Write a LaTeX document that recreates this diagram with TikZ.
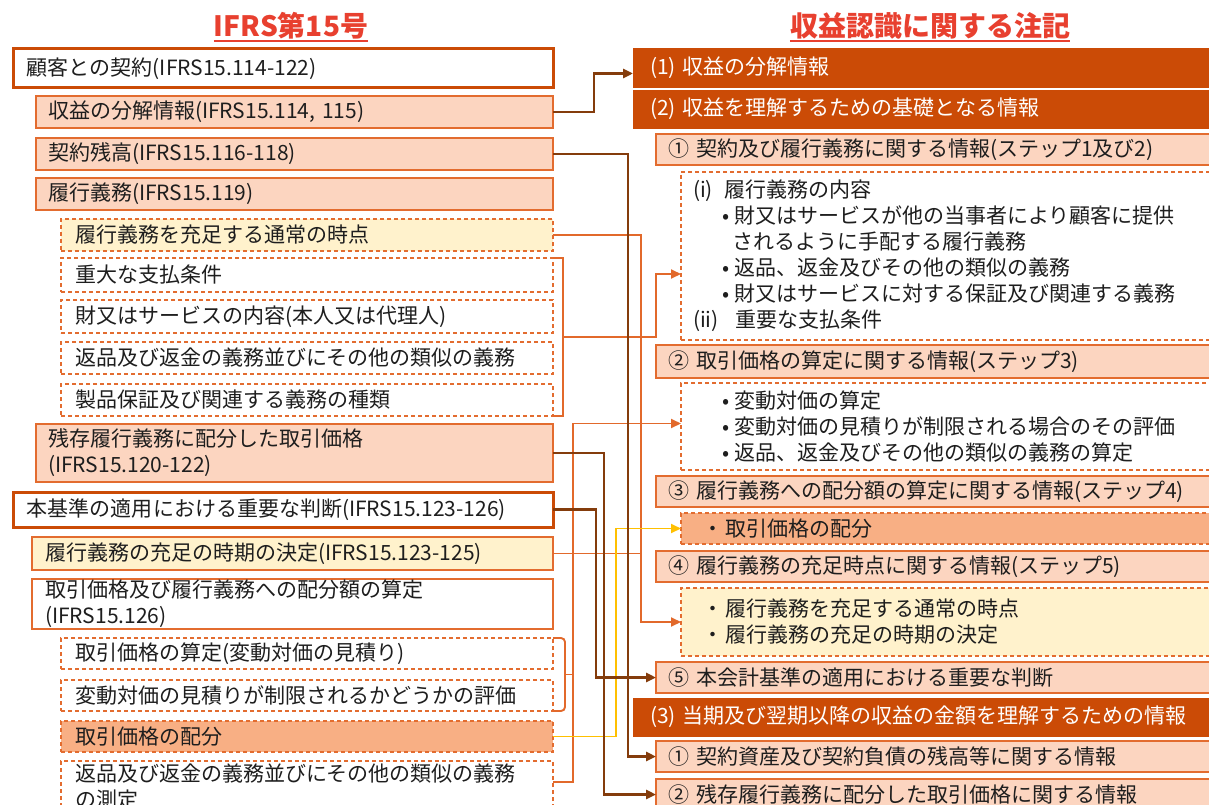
\documentclass[tikz,border=0pt]{standalone}
\usepackage{fontspec}
\newfontfamily\jp{Noto Sans CJK JP}
\usetikzlibrary{arrows.meta,calc}
\definecolor{darkor}{HTML}{CB4B06}
\definecolor{peach}{HTML}{FCD5C0}
\definecolor{bord}{HTML}{E36C2F}
\definecolor{lyel}{HTML}{FFF2CC}
\definecolor{salmon}{HTML}{F8AF84}
\definecolor{brn}{HTML}{843C0C}
\definecolor{orl}{HTML}{E2692B}
\definecolor{yelline}{HTML}{FFC000}
\definecolor{tred}{HTML}{E8402F}
\definecolor{txt}{HTML}{1E1E1E}
\begin{document}
\begin{tikzpicture}[x=1pt,y=-1pt,
  base/.style={anchor=north west, outer sep=0pt, inner ysep=0pt, align=left,
    font=\jp\fontsize{21}{26}\selectfont, text=txt},
  lp/.style={base, draw=bord, line width=1.3pt, fill=peach},
  lw/.style={base, draw=bord, line width=1.3pt, fill=white},
  dsh/.style={base, draw=bord, line width=1.3pt, dash pattern=on 4pt off 3pt, fill=white},
  thk/.style={base, draw=darkor, line width=3pt, fill=white},
  hdr/.style={base, draw=darkor, fill=darkor, text=white},
  wA/.style={minimum width=517pt, text width=493pt, inner xsep=12pt},
  wB/.style={minimum width=540pt, text width=512pt, inner xsep=14pt},
  wC/.style={minimum width=521pt, text width=495pt, inner xsep=13pt},
  wD/.style={minimum width=492pt, text width=464pt, inner xsep=14pt},
  wH/.style={minimum width=582pt, text width=548pt, inner xsep=17pt},
  wR/.style={minimum width=559pt, text width=535pt, inner xsep=12pt},
  wS/.style={minimum width=534pt, text width=510pt, inner xsep=12pt},
  wT/.style={minimum width=534pt, text width=494pt, inner xsep=20pt},
  ttl/.style={font=\jp\bfseries\fontsize{28}{30}\selectfont, text=tred, inner sep=0pt},
  bl/.style={draw=brn, line width=2.5pt},
  ol/.style={draw=orl, line width=1.9pt},
  yl/.style={draw=yelline, line width=1.8pt},
  tip/.style={-{Triangle[length=10pt,width=9pt]}}
]
\useasboundingbox (0,0) rectangle (1209,805);
\fill[white] (0,0) rectangle (1209,805);

% titles
\node[ttl] (T1) at (291,26) {IFRS第15号};
\node[ttl] (T2) at (930,26) {収益認識に関する注記};
\coordinate (u) at (0,41);
\draw[tred, line width=1.6pt] (T1.west |- u) -- (T1.east |- u);
\draw[tred, line width=1.6pt] (T2.west |- u) -- (T2.east |- u);

% left column
\node[thk, wB, minimum height=39pt] (L1) at (13,49) {顧客との契約(IFRS15.114-122)};
\node[lp, wA, minimum height=32pt] (L2) at (36,96) {収益の分解情報(IFRS15.114, 115)};
\node[lp, wA, minimum height=32pt] (L3) at (36,138) {契約残高(IFRS15.116-118)};
\node[lp, wA, minimum height=32pt] (L4) at (36,178) {履行義務(IFRS15.119)};
\node[dsh, wD, fill=lyel, minimum height=32pt] (L5) at (61,219) {履行義務を充足する通常の時点};
\node[dsh, wD, minimum height=34pt] (L6) at (61,258) {重大な支払条件};
\node[dsh, wD, minimum height=33pt] (L7) at (61,300) {財又はサービスの内容(本人又は代理人)};
\node[dsh, wD, minimum height=32pt] (L8) at (61,342) {返品及び返金の義務並びにその他の類似の義務};
\node[dsh, wD, minimum height=32pt] (L9) at (61,384) {製品保証及び関連する義務の種類};
\node[lp, wA, minimum height=58pt] (L10) at (36,424) {残存履行義務に配分した取引価格\\(IFRS15.120-122)};
\node[thk, wB, minimum height=35pt] (L11) at (13,492) {本基準の適用における重要な判断(IFRS15.123-126)};
\node[lw, wC, fill=lyel, minimum height=33pt] (L12) at (32,537) {履行義務の充足の時期の決定(IFRS15.123-125)};
\node[lw, wC, minimum height=50pt] (L13) at (32,579) {取引価格及び履行義務への配分額の算定\\(IFRS15.126)};
\node[dsh, wD, minimum height=31pt] (L14) at (61,638) {取引価格の算定(変動対価の見積り)};
\node[dsh, wD, minimum height=31pt] (L15) at (61,680) {変動対価の見積りが制限されるかどうかの評価};
\node[dsh, wD, fill=salmon, minimum height=31pt] (L16) at (61,721) {取引価格の配分};
\node[dsh, wD, minimum height=52pt] (L17) at (61,761) {返品及び返金の義務並びにその他の類似の義務\\の測定};

% right column
\node[hdr, wH, minimum height=39pt] (R1) at (633,48) {(1) 収益の分解情報};
\node[hdr, wH, minimum height=38pt] (R2) at (633,90) {(2) 収益を理解するための基礎となる情報};
\node[lp, wR, minimum height=31pt] (Ra) at (656,134) {① 契約及び履行義務に関する情報(ステップ1及び2)};
\node[dsh, wS, minimum height=168pt] (Rad) at (681,172) {\makebox[31pt][l]{(i)}履行義務の内容\\
\hspace*{29pt}\makebox[12pt][l]{•}財又はサービスが他の当事者により顧客に提供\\
\hspace*{39pt}されるように手配する履行義務\\
\hspace*{29pt}\makebox[12pt][l]{•}返品、返金及びその他の類似の義務\\
\hspace*{29pt}\makebox[12pt][l]{•}財又はサービスに対する保証及び関連する義務\\
\makebox[43pt][l]{(ii)}重要な支払条件};
\node[lp, wR, minimum height=33pt] (Rb) at (656,345) {② 取引価格の算定に関する情報(ステップ3)};
\node[dsh, wS, minimum height=87pt] (Rbd) at (681,383) {\hspace*{29pt}\makebox[12pt][l]{•}変動対価の算定\\
\hspace*{29pt}\makebox[12pt][l]{•}変動対価の見積りが制限される場合のその評価\\
\hspace*{29pt}\makebox[12pt][l]{•}返品、返金及びその他の類似の義務の算定};
\node[lp, wR, minimum height=31pt] (Rc) at (656,476) {③ 履行義務への配分額の算定に関する情報(ステップ4)};
\node[dsh, wT, fill=salmon, minimum height=31pt] (Rcd) at (681,513) {\makebox[24pt][c]{・}取引価格の配分};
\node[lp, wR, minimum height=31pt] (Rd) at (656,551) {④ 履行義務の充足時点に関する情報(ステップ5)};
\node[dsh, wT, fill=lyel, minimum height=68pt] (Rdd) at (681,588) {\makebox[24pt][c]{・}履行義務を充足する通常の時点\\
\makebox[24pt][c]{・}履行義務の充足の時期の決定};
\node[lp, wR, minimum height=31pt] (Re) at (656,662) {⑤ 本会計基準の適用における重要な判断};
\node[hdr, wH, minimum height=38pt] (R3) at (633,698) {(3) 当期及び翌期以降の収益の金額を理解するための情報};
\node[lp, wR, minimum height=31pt] (Rf) at (656,741) {① 契約資産及び契約負債の残高等に関する情報};
\node[lp, wR, minimum height=31pt] (Rg) at (656,779) {② 残存履行義務に配分した取引価格に関する情報};

% brackets
\draw[ol] (L6.north east) -- ++(10,0) coordinate (b1) -- (b1 |- L9.south east) coordinate (b2) -- (L9.south east);
\draw[ol, rounded corners=4pt] (L14.north east) -- ++(12,0) coordinate (b3) -- (b3 |- L15.south east) coordinate (b4) -- (L15.south east);
\coordinate (m1) at ($(b1)!0.5!(b2)$);
\coordinate (m2) at ($(b3)!0.5!(b4)$);

% connectors
\draw[ol, tip] (m1) -- ++(93,0) |- ([yshift=-18pt]Rad.west);
\draw[ol] (m2) -- ++(8,0);
\draw[ol, tip] ([yshift=5pt]L17.east) -- ++(20,0) |- ([yshift=3pt]Rbd.west);
\draw[ol, tip] (L5.east) -- ++(88,0) coordinate (c5) |- (Rdd.west);
\draw[ol] (L12.east) -- (L12.east -| c5);
\draw[yl, tip] (L16.east) -- ++(63,0) |- (Rcd.west);
\draw[bl, tip] (L2.east) -- ++(41,0) |- ([yshift=-6pt]R1.west);
\draw[bl, tip] (L3.east) -- ++(75,0) |- (Rf.west);
\draw[bl, tip] (L10.east) -- ++(51,0) |- (Rg.west);
\draw[bl, tip] (L11.east) -- ++(43,0) |- (Re.west);
\end{tikzpicture}
\end{document}
